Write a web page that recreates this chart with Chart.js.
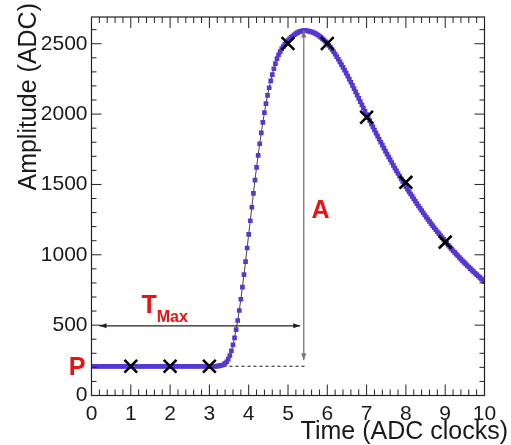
<!DOCTYPE html>
<html lang="en">
<head>
  <meta charset="UTF-8" />
  <title>Pulse amplitude vs time</title>
  <script src="https://cdn.jsdelivr.net/npm/chart.js"></script>
  <style>
    body {
      margin: 0;
      background: #fff;
    }
    #wrap {
      width: 511px;
      height: 445px;
    }
  </style>
</head>
<body>
  <div id="wrap"><canvas id="pulse" width="511" height="445"></canvas></div>

  <script>
    // ---- data ----
    // pulse sampled every 0.04 ADC clocks, from t = 0 to t = 10
    const sampleStep = 0.04;
    const amplitude = [
      208, 208, 208, 208, 208, 208, 208, 208, 208, 208, 208, 208, 208, 208, 208, 208, 208, 208, 208, 208,
      208, 208, 208, 208, 208, 208, 208, 208, 208, 208, 208, 208, 208, 208, 208, 208, 208, 208, 208, 208,
      208, 208, 208, 208, 208, 208, 208, 208, 208, 208, 208, 208, 208, 208, 208, 208, 208, 208, 208, 208,
      208, 208, 208, 208, 208, 208, 208, 208, 208, 208, 208, 208, 208, 208, 208, 208, 208, 208, 208, 208,
      209, 210, 212, 215, 220, 228, 240, 258, 284, 318,
      360, 410, 468, 533, 604, 684, 770, 859, 952, 1048,
      1145, 1242, 1338, 1437, 1531, 1621, 1707, 1789, 1867, 1941,
      2010, 2074, 2133, 2187, 2236, 2281, 2322, 2359, 2394, 2422,
      2444, 2463, 2480, 2495, 2509, 2522, 2534, 2545, 2555, 2564,
      2572, 2579, 2584, 2588, 2591, 2594, 2593, 2592, 2590, 2587,
      2584, 2580, 2575, 2569, 2562, 2554, 2545, 2535, 2525, 2513,
      2501, 2488, 2474, 2459, 2443, 2426, 2408, 2390, 2371, 2352,
      2332, 2312, 2291, 2270, 2248, 2226, 2204, 2181, 2158, 2135,
      2112, 2089, 2066, 2043, 2020, 1997, 1975, 1953, 1931, 1909,
      1887, 1865, 1843, 1821, 1800, 1779, 1758, 1737, 1716, 1696,
      1676, 1656, 1636, 1616, 1597, 1578, 1559, 1540, 1521, 1503,
      1485, 1467, 1449, 1432, 1415, 1398, 1381, 1364, 1347, 1331,
      1315, 1299, 1283, 1267, 1252, 1237, 1222, 1207, 1192, 1178,
      1164, 1150, 1136, 1122, 1109, 1096, 1082, 1068, 1055, 1042,
      1029, 1017, 1005, 993, 981, 969, 957, 946, 935, 924,
      913, 902, 891, 880, 869, 859, 849, 839, 829, 819,
      809
    ];

    // ADC samples (the black crosses)
    const adcTimes = [1, 2, 3, 5, 6, 7, 8, 9];
    const adcAmps = [208, 208, 208, 2502, 2502, 1978, 1515, 1090];

    const xTicks = [0, 1, 2, 3, 4, 5, 6, 7, 8, 9, 10];
    const yTicks = [0, 500, 1000, 1500, 2000, 2500];

    const tmaxLevel = 495;   // height of the T_Max arrow
    const tmaxLabelAt = [1.27, 585];
    const ampLabelAt = [5.6, 1260];

    // ---- derived ----
    const pedestal = amplitude[0];
    const peakIndex = amplitude.indexOf(Math.max(...amplitude));
    const peakTime = peakIndex * sampleStep;
    const peakAmp = amplitude[peakIndex];

    const FONT = '"Liberation Sans", Arial, Helvetica, sans-serif';

    function arrowHead(ctx, x, y, dx, dy, len, half) {
      ctx.beginPath();
      ctx.moveTo(x, y);
      ctx.lineTo(x - dx * len - dy * half, y - dy * len + dx * half);
      ctx.lineTo(x - dx * len + dy * half, y - dy * len - dx * half);
      ctx.closePath();
      ctx.fill();
    }

    const rootFrame = {
      id: 'rootFrame',
      beforeDatasetsDraw(chart) {
        const { ctx, scales: { x, y } } = chart;
        const yp = y.getPixelForValue(pedestal);
        ctx.save();
        ctx.strokeStyle = '#111';
        ctx.lineWidth = 1;
        ctx.setLineDash([3, 3]);
        ctx.beginPath();
        ctx.moveTo(x.getPixelForValue(0), yp);
        ctx.lineTo(x.getPixelForValue(peakTime) + 3, yp);
        ctx.stroke();
        ctx.restore();
      },
      afterDatasetsDraw(chart) {
        const { ctx, chartArea: a, scales: { x, y } } = chart;
        ctx.save();

        // vertical arrow: pedestal -> peak
        const xp = x.getPixelForValue(peakTime);
        const yBot = y.getPixelForValue(pedestal) - 6;
        const yTop = y.getPixelForValue(peakAmp);
        ctx.strokeStyle = '#888';
        ctx.fillStyle = '#777';
        ctx.lineWidth = 1.5;
        ctx.beginPath();
        ctx.moveTo(xp, yBot);
        ctx.lineTo(xp, yTop);
        ctx.stroke();
        arrowHead(ctx, xp, yTop, 0, -1, 7, 2.5);
        arrowHead(ctx, xp, yBot, 0, 1, 7, 2.5);

        // horizontal arrow: t = 0 -> t at peak
        const yh = y.getPixelForValue(tmaxLevel);
        const xl = a.left + 8;
        const xr = xp - 3.5;
        ctx.strokeStyle = '#222';
        ctx.fillStyle = '#222';
        ctx.lineWidth = 1.2;
        ctx.beginPath();
        ctx.moveTo(xl, yh);
        ctx.lineTo(xr, yh);
        ctx.stroke();
        arrowHead(ctx, xl, yh, -1, 0, 7, 2.5);
        arrowHead(ctx, xr, yh, 1, 0, 7, 2.5);

        // frame
        ctx.strokeStyle = '#222';
        ctx.lineWidth = 1.2;
        ctx.strokeRect(a.left, a.top, a.right - a.left, a.bottom - a.top);

        // ticks, drawn inside the frame
        ctx.lineWidth = 1;
        ctx.beginPath();
        for (let i = 0; i <= 50; i++) {
          const px = x.getPixelForValue(i * 0.2);
          const len = i % 5 === 0 ? 11 : 6;
          ctx.moveTo(px, a.bottom);
          ctx.lineTo(px, a.bottom - len);
          ctx.moveTo(px, a.top);
          ctx.lineTo(px, a.top + len);
        }
        for (let v = 0; v <= y.max; v += 100) {
          const py = y.getPixelForValue(v);
          const len = v % 500 === 0 ? 10 : 5;
          ctx.moveTo(a.left, py);
          ctx.lineTo(a.left + len, py);
          ctx.moveTo(a.right, py);
          ctx.lineTo(a.right - len, py);
        }
        ctx.stroke();

        // red labels
        ctx.fillStyle = '#ee1111';
        ctx.textBaseline = 'alphabetic';
        ctx.font = 'bold 25px ' + FONT;
        ctx.textAlign = 'right';
        ctx.fillText('P', a.left - 6, y.getPixelForValue(pedestal) + 9);
        ctx.textAlign = 'left';
        const tx = x.getPixelForValue(tmaxLabelAt[0]);
        const ty = y.getPixelForValue(tmaxLabelAt[1]);
        ctx.fillText('T', tx, ty);
        const tw = ctx.measureText('T').width;
        ctx.font = 'bold 16px ' + FONT;
        ctx.fillText('Max', tx + tw, ty + 9);
        ctx.font = 'bold 25px ' + FONT;
        ctx.fillText('A', x.getPixelForValue(ampLabelAt[0]), y.getPixelForValue(ampLabelAt[1]));

        // axis titles
        ctx.fillStyle = '#1a1a1a';
        ctx.font = '25px ' + FONT;
        ctx.textAlign = 'right';
        ctx.fillText('Time (ADC clocks)', 508, 439);
        ctx.translate(36, 3);
        ctx.rotate(-Math.PI / 2);
        ctx.fillText('Amplitude (ADC)', 0, 0);

        ctx.restore();
      }
    };

    const tickFont = { family: FONT, size: 21 };

    new Chart(document.getElementById('pulse').getContext('2d'), {
      type: 'scatter',
      data: {
        datasets: [
          {
            label: 'ADC samples',
            data: adcTimes.map((t, i) => ({ x: t, y: adcAmps[i] })),
            showLine: false,
            pointStyle: 'crossRot',
            pointRadius: 9,
            pointBorderWidth: 2.6,
            pointBorderColor: '#000'
          },
          {
            label: 'Pulse',
            data: amplitude.map((v, i) => ({ x: i * sampleStep, y: v })),
            showLine: true,
            borderColor: '#444',
            borderWidth: 1,
            pointStyle: 'rect',
            pointRadius: 3.3,
            pointBackgroundColor: '#5637d2',
            pointBorderWidth: 0
          }
        ]
      },
      options: {
        responsive: false,
        animation: false,
        devicePixelRatio: 1,
        layout: { padding: { top: 17, right: 26.5, left: 0, bottom: 0 } },
        plugins: {
          legend: { display: false },
          tooltip: { enabled: false }
        },
        scales: {
          x: {
            type: 'linear',
            min: 0,
            max: 10,
            afterBuildTicks: s => { s.ticks = xTicks.map(v => ({ value: v })); },
            afterFit: s => { s.height = 49.5; },
            grid: { display: false, drawTicks: false },
            border: { display: false },
            ticks: { padding: 6, color: '#1a1a1a', font: tickFont, maxRotation: 0, callback: v => String(v) }
          },
          y: {
            type: 'linear',
            min: 0,
            max: 2690,
            afterBuildTicks: s => { s.ticks = yTicks.map(v => ({ value: v })); },
            afterFit: s => { s.width = 91.5; },
            grid: { display: false, drawTicks: false },
            border: { display: false },
            ticks: { padding: 4, color: '#1a1a1a', font: tickFont, callback: v => String(v) }
          }
        }
      },
      plugins: [rootFrame]
    });
  </script>
</body>
</html>
